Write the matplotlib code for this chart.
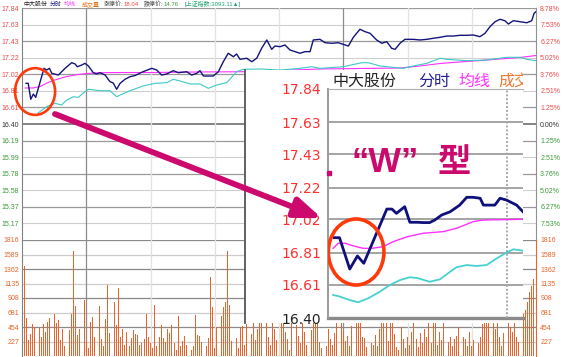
import numpy as np
import matplotlib.pyplot as plt
from matplotlib.patches import Ellipse

plt.rcParams['font.family'] = ['Liberation Sans', 'Noto Sans CJK SC', 'DejaVu Sans']

# ---- main intraday chart (minutes since open, price) ----
price_t = [1.9, 2.9, 4.1, 5.3, 6.4, 9.7, 10.3, 11.5, 12.8, 13.9, 17.0, 20.1, 23.2, 24.8, 25.8,
           27.9, 29.4, 31.0, 33.3, 34.9, 36.4, 38.8, 41.1, 42.6, 44.2, 45.8, 48.1, 50.4, 52.8,
           56.5, 60.6, 62.9, 65.2, 67.6, 70.6, 73.0, 76.9, 79.2, 81.6, 83.1, 84.7, 89.3, 91.7,
           94.0, 96.3, 98.7, 100.2, 101.8, 104.9, 107.3, 109.6, 111.9, 114.3, 116.6, 118.1,
           120.5, 122.8, 125.1, 127.5, 129.8, 132.1, 134.5, 136.0, 139.1, 141.5, 144.6, 147.7,
           150.0, 152.4, 154.7, 157.8, 160.2, 162.5, 165.6, 168.0, 170.3, 172.6, 174.2, 176.5,
           178.8, 182.7, 185.8, 189.0, 192.0, 195.2, 198.3, 201.4, 204.5, 207.6, 210.7, 213.8,
           216.2, 218.5, 220.9, 223.2, 225.5, 227.1, 229.4, 232.5, 235.7, 238.0, 239.1, 240.0]
price = [16.905, 16.905, 16.707, 16.772, 16.731, 17.037, 17.091, 17.070, 17.091, 17.029, 17.008,
         17.091, 17.161, 17.145, 17.111, 17.132, 17.153, 17.120, 17.037, 17.021, 17.037, 17.008,
         16.925, 16.909, 16.831, 16.905, 16.955, 16.987, 17.002, 17.049, 17.091, 17.070, 17.008,
         17.021, 17.062, 17.037, 17.049, 17.008, 17.029, 17.062, 16.996, 16.996, 17.049, 17.173,
         17.278, 17.235, 17.269, 17.203, 17.216, 17.173, 17.216, 17.340, 17.443, 17.327, 17.368,
         17.360, 17.381, 17.319, 17.298, 17.278, 17.298, 17.298, 17.443, 17.451, 17.409, 17.402,
         17.409, 17.389, 17.368, 17.476, 17.576, 17.546, 17.526, 17.443, 17.402, 17.422, 17.340,
         17.327, 17.402, 17.451, 17.451, 17.443, 17.451, 17.464, 17.476, 17.492, 17.492, 17.501,
         17.501, 17.505, 17.484, 17.526, 17.608, 17.670, 17.700, 17.682, 17.641, 17.682, 17.670,
         17.657, 17.682, 17.774, 17.794]

avg_t = [1.4, 5.1, 8.4, 11.7, 14.5, 17.7, 21.0, 24.7, 28.0, 31.8, 36.4, 45.8, 59.8, 83.1,
         103.2, 120.5, 139.1, 157.8, 176.5, 185.8, 195.2, 204.5, 213.8, 223.2, 232.5, 240.0]
avg_price = [16.847, 16.847, 16.865, 16.909, 16.940, 16.965, 16.990, 17.008, 17.021, 17.029,
             17.037, 17.039, 17.039, 17.046, 17.049, 17.064, 17.083, 17.089, 17.095, 17.120,
             17.151, 17.170, 17.188, 17.207, 17.226, 17.250]

index_t = [7.5, 11.5, 15.4, 18.5, 20.9, 24.0, 26.3, 29.4, 31.0, 36.4, 41.1, 44.2, 45.8, 50.4,
           56.5, 62.1, 67.6, 70.6, 73.8, 78.4, 83.1, 87.0, 90.9, 95.6, 100.2, 103.3, 111.1,
           120.5, 129.8, 135.3, 139.1, 150.0, 158.6, 161.7, 167.2, 178.0, 182.7, 189.0, 195.2,
           198.3, 207.6, 217.0, 226.3, 232.5, 235.7, 240.0]
index_price = [16.537, 16.615, 16.657, 16.636, 16.698, 16.739, 16.731, 16.801, 16.831, 16.813,
               16.813, 16.739, 16.760, 16.813, 16.872, 16.905, 16.913, 16.955, 16.934, 16.897,
               16.897, 16.843, 16.884, 16.913, 17.049, 17.079, 17.083, 17.070, 17.091, 17.111,
               17.091, 17.111, 17.161, 17.161, 17.120, 17.091, 17.120, 17.153, 17.216, 17.203,
               17.186, 17.194, 17.228, 17.228, 17.203, 17.186]

volume = [1410, 600, 250, 340, 500, 450, 520, 440, 300, 500, 380, 540, 600, 560, 650, 520, 570, 250, 420, 160,
          730, 400, 650, 1640, 780, 330, 430, 470, 870, 220, 120, 540, 610, 300, 560, 790, 270, 150, 580, 1110,
          360, 820, 850, 480, 1060, 290, 420, 170, 380, 150, 280, 400, 350, 330, 180, 200, 260, 650, 300, 200,
          120, 800, 150, 300, 480, 280, 220, 420, 360, 480, 200, 100, 620, 150, 230, 320, 180, 700, 90, 160,
          640, 330, 310, 220, 620, 160, 280, 1230, 760, 130, 450, 230, 620, 760, 850, 1650, 800, 230, 350, 280,
          130, 450, 470, 180, 500, 600, 350, 700, 250, 430, 650, 900, 700, 520, 300, 180, 560, 420, 250, 160,
          700, 640, 380, 260, 90, 550, 720, 480, 310, 200, 650, 380, 170, 280, 400, 760, 700, 540, 220, 120,
          300, 150, 420, 260, 180, 360, 600, 700, 580, 390, 240, 320, 160, 470, 220, 650, 900, 540, 300, 280,
          140, 120, 200, 180, 330, 150, 420, 560, 820, 600, 240, 560, 700, 350, 140, 90, 450, 260, 120, 300,
          180, 380, 600, 260, 140, 360, 200, 420, 300, 640, 200, 560, 700, 180, 380, 250, 560, 700, 220, 300,
          150, 260, 320, 450, 200, 300, 260, 150, 380, 160, 250, 420, 200, 300, 500, 620, 560, 700, 520, 640,
          430, 580, 300, 150, 360, 250, 520, 460, 380, 560, 300, 220, 520, 650, 720, 850, 1000, 1100, 1200, 1350]

price_ticks = [17.84, 17.63, 17.43, 17.22, 17.02, 16.81, 16.61, 16.40,
               16.19, 15.99, 15.78, 15.58, 15.37, 15.17]
pct_ticks = ['8.78%', '7.53%', '6.27%', '5.02%', '3.76%', '2.51%', '1.25%', '0.00%',
             '1.25%', '2.51%', '3.76%', '5.02%', '6.27%', '7.53%']
vol_ticks = [1816, 1589, 1362, 1135, 908, 681, 454, 227]
prev_close = 16.40

# ---- zoomed inset (first half hour) ----
zoom_t = [1.0, 1.8, 3.4, 4.6, 5.6, 9.2, 10.0, 10.7, 12.0, 12.8, 13.9, 14.9, 15.9, 16.7, 17.8,
          19.1, 20.6, 21.7, 22.7, 23.8, 24.3, 26.1, 26.9, 27.9, 29.5, 30.5]
zoom_price = [16.905, 16.905, 16.708, 16.790, 16.744, 17.085, 17.085, 17.058, 17.100, 17.002,
              17.002, 17.000, 17.000, 17.016, 17.048, 17.068, 17.110, 17.159, 17.159, 17.153,
              17.110, 17.110, 17.153, 17.142, 17.110, 17.068]
zoom_avg_t = [0.8, 1.6, 2.7, 4.0, 5.5, 6.8, 8.6, 10.2, 12.3, 14.9, 18.0, 20.1, 22.7, 24.3, 30.5]
zoom_avg = [16.838, 16.870, 16.870, 16.853, 16.838, 16.838, 16.848, 16.880, 16.910, 16.933,
            16.943, 16.964, 17.006, 17.016, 17.021]
zoom_idx_t = [0.8, 1.9, 3.4, 4.7, 6.3, 8.1, 9.7, 11.3, 12.8, 13.9, 15.9, 17.5, 19.1, 20.1,
              21.7, 23.2, 24.8, 26.4, 27.9, 29.0, 30.5]
zoom_idx = [16.545, 16.534, 16.513, 16.499, 16.524, 16.565, 16.608, 16.639, 16.656, 16.652,
            16.628, 16.643, 16.691, 16.719, 16.733, 16.727, 16.733, 16.775, 16.811, 16.832, 16.823]
zoom_ticks = [17.84, 17.63, 17.43, 17.22, 17.02, 16.81, 16.61, 16.40]

W, H = 563, 357
RED, GREEN, ORANGE = '#f04848', '#3a9a3a', '#e8642a'
NAVY, MAGENTA, CYAN = '#14147a', '#ff30ff', '#3cc8c8'
PINK = '#cc0a6e'


def rect(x0, y0, x1, y1):
    # pixel box -> figure fraction
    return [x0 / W, 1 - y1 / H, (x1 - x0) / W, (y1 - y0) / H]


fig = plt.figure(figsize=(W / 100, H / 100), dpi=100)

# price panel
ax_p = fig.add_axes(rect(22, 8, 536, 240))
ax_p.set_xlim(0, 240)
ax_p.set_ylim(14.96, 17.84)
for i, lv in enumerate(price_ticks):
    if lv == prev_close:
        c, lw = '#707070', 1.2
    else:
        c, lw = ('#9a9a9a', 0.9) if i % 2 == 0 else ('#cfcfcf', 0.8)
    ax_p.axhline(lv, color=c, lw=lw, zorder=1)
ax_p.plot(price_t, price, color=NAVY, lw=1.0, zorder=4)
ax_p.plot(avg_t, avg_price, color=MAGENTA, lw=0.8, zorder=3)
ax_p.plot(index_t, index_price, color=CYAN, lw=0.8, zorder=3)

# volume panel
ax_v = fig.add_axes(rect(22, 240, 536, 356))
ax_v.set_xlim(0, 240)
ax_v.set_ylim(0, 1816)
for i, lv in enumerate(vol_ticks):
    c = '#8a8a8a' if i % 2 == 0 else '#cccccc'
    ax_v.axhline(lv, color=c, lw=0.9, zorder=1)
ax_v.bar(np.arange(1, 241), volume, width=0.42, color=ORANGE, lw=0, zorder=2)

for ax in (ax_p, ax_v):
    for k in range(1, 8):
        dark = k in (1, 5)
        ax.axvline(30 * k, color='#8c8c8c' if dark else '#e2e2e2', lw=0.9, zorder=1)
    ax.set_xticks([])
    for s in ('top', 'bottom'):
        ax.spines[s].set_visible(False)
    ax.spines['left'].set_color('#808080')
    ax.tick_params(axis='y', length=0, pad=2, labelsize=5)
ax_v.spines['right'].set_color(ORANGE)
ax_p.spines['right'].set_color('#909090')

ax_p.set_yticks(price_ticks)
ax_p.set_yticklabels([f'{v:.2f}' for v in price_ticks])
for lab, v in zip(ax_p.get_yticklabels(), price_ticks):
    lab.set_color(RED if v > prev_close else ('#333333' if v == prev_close else GREEN))
ax_v.set_yticks(vol_ticks)
ax_v.set_yticklabels([str(v) for v in vol_ticks], color=ORANGE)

for ax, ticks, labels in ((ax_p, price_ticks, pct_ticks), (ax_v, vol_ticks, [str(v) for v in vol_ticks])):
    tw = ax.twinx()
    tw.set_ylim(ax.get_ylim())
    tw.set_yticks(ticks)
    tw.set_yticklabels(labels)
    tw.tick_params(axis='y', length=0, pad=3, labelsize=5)
    for s in tw.spines.values():
        s.set_visible(False)
    for lab, v in zip(tw.get_yticklabels(), ticks):
        if ax is ax_v:
            lab.set_color(ORANGE)
        else:
            lab.set_color(RED if v > prev_close else ('#333333' if v == prev_close else GREEN))

# header line of the main chart
header = [(23, '中大股份', '#222222'), (50, '分时', NAVY), (64, '均线', MAGENTA),
          (82, '成交量', '#e07010'), (104, '涨停价:', '#444444'), (124, '18.04', RED),
          (144, '跌停价:', '#444444'), (164, '14.76', GREEN),
          (185, '[上证指数:3093.11▲]', '#20a070')]
for x, s, c in header:
    fig.text(x / W, 1 - 4 / H, s, color=c, fontsize=4.3, va='center', ha='left')

ax_p.add_patch(Ellipse((6.1, 16.803), 18.7, 0.58, fill=False, ec='#ff3a0a', lw=1.9,
                       clip_on=False, zorder=10))

# inset background
ax_box = fig.add_axes(rect(245, 70, 523, 323))
ax_box.set_zorder(5)
ax_box.set_xlim(245, 523)
ax_box.set_ylim(323, 70)
ax_box.set_xticks([])
ax_box.set_yticks([])
for s in ('top', 'right', 'bottom'):
    ax_box.spines[s].set_visible(False)
ax_box.spines['left'].set_color('#555555')
ax_box.spines['left'].set_linewidth(1.3)
title = [(332, '中大股份', '#222222'), (418, '分时', '#202090'), (458, '均线', MAGENTA),
         (498, '成交', '#f07830')]
for x, s, c in title:
    ax_box.text(x, 81, s, color=c, fontsize=11.5, va='center', ha='left',
                family=['Noto Sans CJK SC', 'DejaVu Sans'], clip_on=True)

# inset chart
ax_in = fig.add_axes(rect(328, 89, 523, 318))
ax_in.set_zorder(6)
ax_in.patch.set_alpha(0)
ax_in.set_xlim(0, 30.5)
ax_in.set_ylim(16.40, 17.84)
for lv in zoom_ticks[1:-1]:
    ax_in.axhline(lv, color='#8c8c8c', lw=1.1, zorder=1)
ax_in.axhline(16.40, color='#8a8a8a', lw=2.4, clip_on=False, zorder=1)
ax_in.axvline(28.0, color='#a8a8a8', lw=1.4, ls=(0, (1, 1)), zorder=1)
ax_in.plot(zoom_idx_t, zoom_idx, color='#48d0d0', lw=1.3, zorder=3)
ax_in.plot(zoom_avg_t, zoom_avg, color=MAGENTA, lw=1.0, zorder=3)
ax_in.plot(zoom_t, zoom_price, color='#10107a', lw=2.0, zorder=4)
ax_in.set_xticks([])
ax_in.set_yticks(zoom_ticks)
ax_in.set_yticklabels([f'{v:.2f}' for v in zoom_ticks], family='DejaVu Sans', fontsize=10)
ax_in.tick_params(axis='y', length=0, pad=5)
for lab, v in zip(ax_in.get_yticklabels(), zoom_ticks):
    lab.set_color('#222222' if v == prev_close else '#ff3030')
for s in ('right', 'bottom'):
    ax_in.spines[s].set_visible(False)
ax_in.spines['left'].set_color('#9a9a9a')
ax_in.spines['left'].set_linewidth(1.4)
ax_in.spines['top'].set_color('#b0b0b0')

ax_in.add_patch(Ellipse((4.4, 16.815), 8.7, 0.415, fill=False, ec='#ff3a0a', lw=2.6, zorder=8))
ax_in.text(3.75, 17.38, '“W”', color=PINK, fontsize=25, fontweight='bold',
           family=['Liberation Sans'], va='center', ha='left', zorder=8)
ax_in.text(17.2, 17.38, '型', color=PINK, fontsize=24, fontweight='bold',
           family=['Noto Sans CJK SC'], va='center', ha='left', zorder=8)
ax_in.plot([0.15], [17.31], marker='s', ms=2.5, color=PINK, clip_on=False, zorder=8)

# arrow from the W in the main chart to the inset
ax_in.annotate('', xy=(-0.94, 17.027), xycoords='data',
               xytext=(15.4, 16.524), textcoords=ax_p.transData,
               arrowprops=dict(arrowstyle='-|>,head_length=1.6,head_width=0.6',
                               mutation_scale=10, lw=4.2, color=PINK,
                               shrinkA=0, shrinkB=0),
               annotation_clip=False, zorder=9)

fig.savefig('out.png', dpi=100)
